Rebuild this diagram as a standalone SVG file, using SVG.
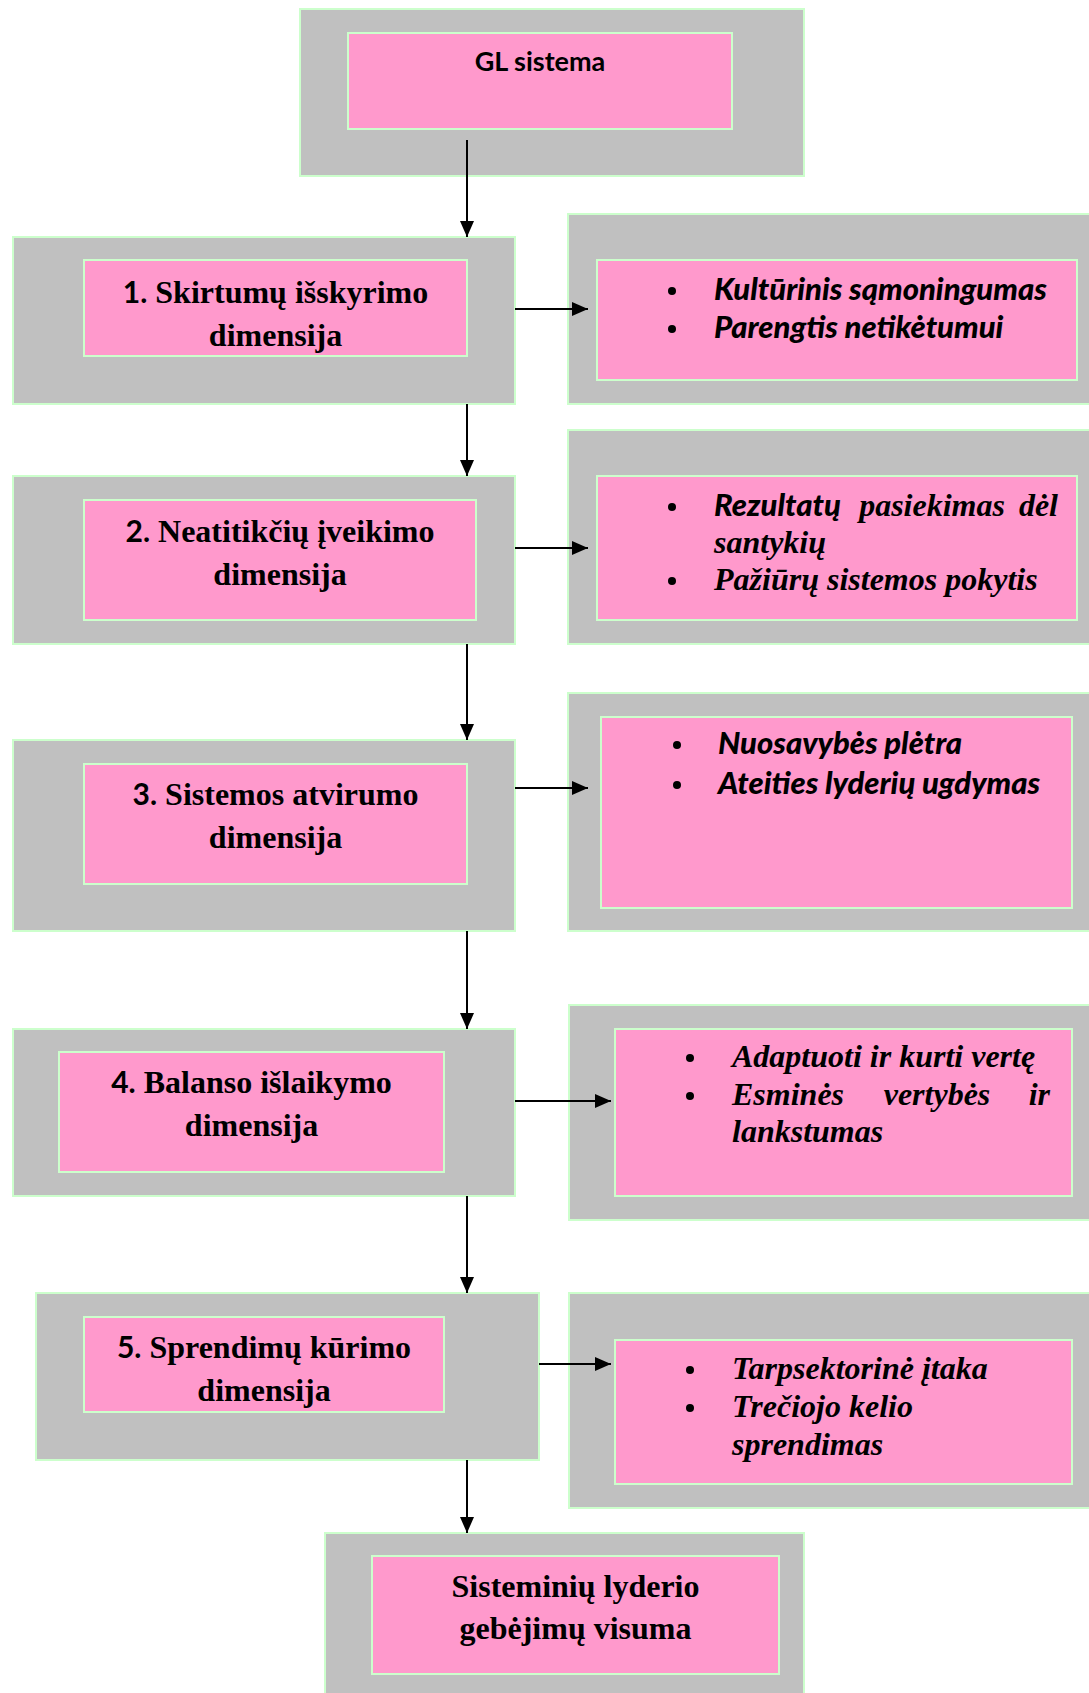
<svg xmlns="http://www.w3.org/2000/svg" width="1089" height="1693" viewBox="0 0 1089 1693">
  <style>
    .outer { fill: #C0C0C0; stroke: #CCFFCC; stroke-width: 2; }
    .inner { fill: #FF99CC; stroke: #CCFFCC; stroke-width: 2; }
    .title { font-family: "Liberation Serif", "Times New Roman", serif; font-weight: bold; font-size: 32px; fill: #000; text-anchor: middle; }
    .num { font-family: Lato, "Liberation Sans", sans-serif; font-weight: bold; font-size: 30px; }
    .head { font-family: Lato, "Liberation Sans", sans-serif; font-weight: bold; font-size: 27px; fill: #000; text-anchor: middle; }
    .item { font-family: "Liberation Serif", "Times New Roman", serif; font-weight: bold; font-style: italic; font-size: 32px; fill: #000; }
    .sans { font-family: Lato, "Liberation Sans", sans-serif; font-weight: 900; font-style: italic; font-size: 31px; fill: #000; }
    .dot { fill: #000; }
    .link { stroke: #000; stroke-width: 2; fill: none; marker-end: url(#tip); }
  </style>
  <defs>
    <marker id="tip" markerUnits="userSpaceOnUse" markerWidth="16" markerHeight="16" viewBox="0 0 16 16" refX="16" refY="8" orient="auto">
      <path d="M0,1 L16,8 L0,15 Z" fill="#000"/>
    </marker>
    <clipPath id="c1"><rect x="84" y="260" width="383" height="96"/></clipPath>
    <clipPath id="c5"><rect x="84" y="1317" width="360" height="95"/></clipPath>
  </defs>

  <!-- top node -->
  <g id="gl-sistema">
    <rect class="outer" x="300" y="9" width="504" height="167"/>
    <rect class="inner" x="348" y="33" width="384" height="96"/>
    <text class="head" x="540" y="71">GL sistema</text>
  </g>

  <!-- dimension nodes -->
  <g id="dim1">
    <rect class="outer" x="13" y="237" width="502" height="167"/>
    <rect class="inner" x="84" y="260" width="383" height="96"/>
    <g clip-path="url(#c1)">
      <text class="title" x="275.5" y="303"><tspan class="num">1.</tspan> Skirtumų išskyrimo</text>
      <text class="title" x="275.5" y="346">dimensija</text>
    </g>
  </g>
  <g id="dim2">
    <rect class="outer" x="13" y="476" width="502" height="168"/>
    <rect class="inner" x="84" y="500" width="392" height="120"/>
    <text class="title" x="280" y="542"><tspan class="num">2.</tspan> Neatitikčių įveikimo</text>
    <text class="title" x="280" y="585">dimensija</text>
  </g>
  <g id="dim3">
    <rect class="outer" x="13" y="740" width="502" height="191"/>
    <rect class="inner" x="84" y="764" width="383" height="120"/>
    <text class="title" x="275.5" y="805"><tspan class="num">3.</tspan> Sistemos atvirumo</text>
    <text class="title" x="275.5" y="848">dimensija</text>
  </g>
  <g id="dim4">
    <rect class="outer" x="13" y="1029" width="502" height="167"/>
    <rect class="inner" x="59" y="1052" width="385" height="120"/>
    <text class="title" x="251.5" y="1093"><tspan class="num">4.</tspan> Balanso išlaikymo</text>
    <text class="title" x="251.5" y="1136">dimensija</text>
  </g>
  <g id="dim5">
    <rect class="outer" x="36" y="1293" width="503" height="167"/>
    <rect class="inner" x="84" y="1317" width="360" height="95"/>
    <g clip-path="url(#c5)">
      <text class="title" x="264" y="1358"><tspan class="num">5.</tspan> Sprendimų kūrimo</text>
      <text class="title" x="264" y="1401">dimensija</text>
    </g>
  </g>

  <!-- result node -->
  <g id="visuma">
    <rect class="outer" x="325" y="1533" width="479" height="175"/>
    <rect class="inner" x="372" y="1556" width="407" height="118"/>
    <text class="title" x="575.5" y="1597">Sisteminių lyderio</text>
    <text class="title" x="575.5" y="1639">gebėjimų visuma</text>
  </g>

  <!-- detail nodes -->
  <g id="det1">
    <rect class="outer" x="568" y="214" width="530" height="190"/>
    <rect class="inner" x="597" y="260" width="480" height="120"/>
    <circle class="dot" cx="672" cy="291" r="4"/>
    <circle class="dot" cx="672" cy="329" r="4"/>
    <text class="sans" x="714" y="300">Kultūrinis sąmoningumas</text>
    <text class="sans" x="714" y="338">Parengtis netikėtumui</text>
  </g>
  <g id="det2">
    <rect class="outer" x="568" y="430" width="530" height="214"/>
    <rect class="inner" x="597" y="476" width="480" height="144"/>
    <circle class="dot" cx="672" cy="507" r="4"/>
    <circle class="dot" cx="672" cy="581" r="4"/>
    <text class="sans" x="714" y="516">Rezultatų</text>
    <text class="item" x="1058" y="516" text-anchor="end">pasiekimas<tspan dx="14">dėl</tspan></text>
    <text class="item" x="714" y="553">santykių</text>
    <text class="item" x="714" y="590">Pažiūrų sistemos pokytis</text>
  </g>
  <g id="det3">
    <rect class="outer" x="568" y="693" width="530" height="238"/>
    <rect class="inner" x="601" y="717" width="471" height="191"/>
    <circle class="dot" cx="677" cy="745" r="4"/>
    <circle class="dot" cx="677" cy="785" r="4"/>
    <text class="sans" x="718" y="754">Nuosavybės plėtra</text>
    <text class="sans" x="718" y="794">Ateities lyderių ugdymas</text>
  </g>
  <g id="det4">
    <rect class="outer" x="569" y="1005" width="530" height="215"/>
    <rect class="inner" x="615" y="1029" width="457" height="167"/>
    <circle class="dot" cx="690" cy="1058" r="4"/>
    <circle class="dot" cx="690" cy="1096" r="4"/>
    <text class="item" x="732" y="1067">Adaptuoti ir kurti vertę</text>
    <text class="item" x="732" y="1105">Esminės</text>
    <text class="item" x="937" y="1105" text-anchor="middle">vertybės</text>
    <text class="item" x="1050" y="1105" text-anchor="end">ir</text>
    <text class="item" x="732" y="1142">lankstumas</text>
  </g>
  <g id="det5">
    <rect class="outer" x="569" y="1293" width="530" height="215"/>
    <rect class="inner" x="615" y="1340" width="457" height="144"/>
    <circle class="dot" cx="690" cy="1370" r="4"/>
    <circle class="dot" cx="690" cy="1408" r="4"/>
    <text class="item" x="732" y="1379">Tarpsektorinė įtaka</text>
    <text class="item" x="732" y="1417">Trečiojo kelio</text>
    <text class="item" x="732" y="1455">sprendimas</text>
  </g>

  <!-- connectors -->
  <g id="connectors">
    <path class="link" d="M467,140 V237"/>
    <path class="link" d="M515,309 H588"/>
    <path class="link" d="M467,404 V476"/>
    <path class="link" d="M515,548 H588"/>
    <path class="link" d="M467,644 V740"/>
    <path class="link" d="M515,788 H588"/>
    <path class="link" d="M467,931 V1029"/>
    <path class="link" d="M515,1101 H611"/>
    <path class="link" d="M467,1196 V1293"/>
    <path class="link" d="M539,1364 H611"/>
    <path class="link" d="M467,1460 V1533"/>
  </g>
</svg>
